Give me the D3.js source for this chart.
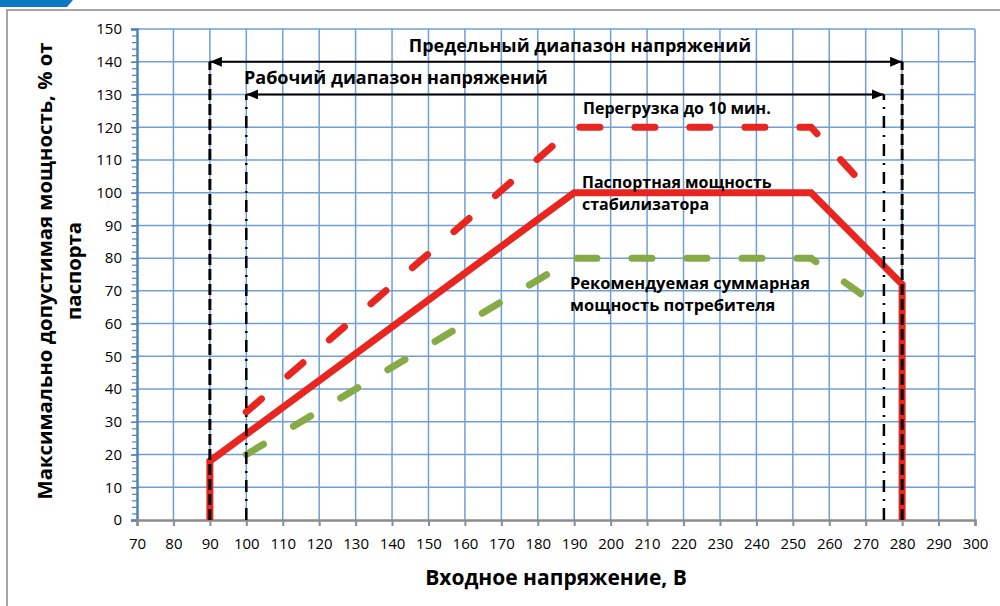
<!DOCTYPE html>
<html>
<head>
<meta charset="utf-8">
<script src="https://cdn.jsdelivr.net/npm/d3@7"></script>
<style>
  body { margin: 0; background: #fff; }
  svg { display: block; font-family: "Open Sans", sans-serif; }
  .lbl { font-weight: bold; fill: #000; }
</style>
</head>
<body>
<div id="chart"></div>
<script>
// tick labels
var xTicks = [70, 80, 90, 100, 110, 120, 130, 140, 150, 160, 170, 180, 190, 200, 210, 220, 230, 240, 250, 260, 270, 280, 290, 300];
var yTicks = [0, 10, 20, 30, 40, 50, 60, 70, 80, 90, 100, 110, 120, 130, 140, 150];

// series (voltage, % of rated power)
var passportV = [90, 90, 190, 255, 280, 280];
var passportP = [0, 18, 100, 100, 72, 0];
var overloadV = [100, 190, 255, 273];
var overloadP = [33, 120, 120, 98];
var recommendV = [100, 190, 255, 275];
var recommendP = [20, 80, 80, 64];

// voltage ranges [from, to, level]
var limitRange = [90, 280, 140];
var workRange = [100, 275, 130];

var width = 1000, height = 606;
var margin = {top: 29, right: 25, bottom: 86, left: 137};
var innerWidth = width - margin.left - margin.right;
var innerHeight = height - margin.top - margin.bottom;

var svg = d3.select("#chart").append("svg")
    .attr("width", width)
    .attr("height", height);

// outer frame
svg.append("path")
    .attr("d", "M7,606V10H1000")
    .attr("fill", "none")
    .attr("stroke", "#a6a6a6")
    .attr("stroke-width", 2);
svg.append("path")
    .attr("d", "M0,0H73L67,7H0Z")
    .attr("fill", "#0a7bc1");

var xScale = d3.scaleLinear().domain([70, 300]).range([0, innerWidth]);
var yScale = d3.scaleLinear().domain([0, 150]).range([innerHeight, 0]);

var g = svg.append("g")
    .attr("transform", `translate(${margin.left}, ${margin.top})`);

var gridColor = "#6f9ed8";

// grid
g.append("g").selectAll("line").data(xTicks.slice(1)).join("line")
    .attr("x1", d => xScale(d)).attr("x2", d => xScale(d))
    .attr("y1", 0).attr("y2", innerHeight)
    .attr("stroke", gridColor).attr("stroke-width", 1.5);
g.append("g").selectAll("line").data(yTicks.slice(1)).join("line")
    .attr("x1", 0).attr("x2", innerWidth)
    .attr("y1", d => yScale(d)).attr("y2", d => yScale(d))
    .attr("stroke", gridColor).attr("stroke-width", 1.5);

// y axis with minor ticks
var yMinor = g.append("g").call(d3.axisLeft(yScale).ticks(75).tickSize(5).tickFormat(""));
yMinor.selectAll("line").attr("stroke", "#4f81bd").attr("stroke-width", 1.2);
yMinor.select(".domain").remove();

var yAxisG = g.append("g")
    .call(d3.axisLeft(yScale).tickValues(yTicks).tickSize(6).tickPadding(9))
    .attr("font-family", null)
    .attr("font-size", 15);
yAxisG.selectAll("line").attr("stroke", "#4f81bd").attr("stroke-width", 1.5);
yAxisG.select(".domain").attr("stroke", "#4f81bd").attr("stroke-width", 2.5);
yAxisG.selectAll("text").attr("fill", "#000");

var xAxisG = g.append("g")
    .attr("transform", `translate(0, ${innerHeight})`)
    .call(d3.axisBottom(xScale).tickValues(xTicks).tickSize(6).tickPadding(12))
    .attr("font-family", null)
    .attr("font-size", 15);
xAxisG.selectAll("line").attr("stroke", "#8c8c8c").attr("stroke-width", 2);
xAxisG.select(".domain").attr("stroke", "#8c8c8c").attr("stroke-width", 2.5);
xAxisG.selectAll("text").attr("fill", "#000");

var lineGen = d3.line()
    .x(d => xScale(d[0]))
    .y(d => yScale(d[1]));

var pairs = (xs, ys) => xs.map((v, i) => [v, ys[i]]);

// recommended consumer power
g.append("path")
    .attr("d", lineGen(pairs(recommendV, recommendP)))
    .attr("fill", "none")
    .attr("stroke", "#86aa45")
    .attr("stroke-width", 7)
    .attr("stroke-linecap", "round")
    .attr("stroke-dasharray", "20 35");

// overload up to 10 min
g.append("path")
    .attr("d", lineGen(pairs(overloadV, overloadP)))
    .attr("fill", "none")
    .attr("stroke", "#e8251f")
    .attr("stroke-width", 7)
    .attr("stroke-linecap", "round")
    .attr("stroke-dasharray", "20 35");

// rated stabilizer power
g.append("path")
    .attr("d", lineGen(pairs(passportV, passportP)))
    .attr("fill", "none")
    .attr("stroke", "#e8251f")
    .attr("stroke-width", 7)
    .attr("stroke-linejoin", "miter");

// range boundary lines
[limitRange[0], limitRange[1]].forEach(v => {
  g.append("line")
    .attr("x1", xScale(v)).attr("x2", xScale(v))
    .attr("y1", yScale(0)).attr("y2", yScale(limitRange[2]))
    .attr("stroke", "#000").attr("stroke-width", 3)
    .attr("stroke-dasharray", "11 4");
});
[workRange[0], workRange[1]].forEach(v => {
  g.append("line")
    .attr("x1", xScale(v)).attr("x2", xScale(v))
    .attr("y1", yScale(0)).attr("y2", yScale(workRange[2]))
    .attr("stroke", "#000").attr("stroke-width", 2.5)
    .attr("stroke-dasharray", "12 7 2 7");
});

// arrows
svg.append("defs").append("marker")
    .attr("id", "arrow")
    .attr("viewBox", "0 0 12 10")
    .attr("refX", 12).attr("refY", 5)
    .attr("markerWidth", 12).attr("markerHeight", 10)
    .attr("markerUnits", "userSpaceOnUse")
    .attr("orient", "auto-start-reverse")
    .append("path")
    .attr("d", "M0,0L12,5L0,10Z")
    .attr("fill", "#000");

[limitRange, workRange].forEach(r => {
  g.append("line")
    .attr("x1", xScale(r[0])).attr("x2", xScale(r[1]))
    .attr("y1", yScale(r[2])).attr("y2", yScale(r[2]))
    .attr("stroke", "#000").attr("stroke-width", 2)
    .attr("marker-start", "url(#arrow)")
    .attr("marker-end", "url(#arrow)");
});

// annotations
var notes = [
  {x: 580, y: 52, size: 18, anchor: "middle", lines: ["Предельный диапазон напряжений"]},
  {x: 244, y: 84, size: 18, anchor: "start", lines: ["Рабочий диапазон напряжений"]},
  {x: 583, y: 114, size: 16, anchor: "start", lines: ["Перегрузка до 10 мин."]},
  {x: 582, y: 188, size: 16, anchor: "start", lines: ["Паспортная мощность", "стабилизатора"]},
  {x: 570, y: 289, size: 16.5, anchor: "start", lines: ["Рекомендуемая суммарная", "мощность потребителя"]}
];
notes.forEach(n => {
  var t = svg.append("text")
    .attr("class", "lbl")
    .attr("x", n.x).attr("y", n.y)
    .attr("font-size", n.size)
    .attr("text-anchor", n.anchor);
  n.lines.forEach((s, i) => {
    t.append("tspan").attr("x", n.x).attr("dy", i ? 22 : 0).text(s);
  });
});

// axis titles
svg.append("text")
    .attr("class", "lbl")
    .attr("x", 556).attr("y", 585)
    .attr("font-size", 21)
    .attr("text-anchor", "middle")
    .text("Входное напряжение, В");

var yt = svg.append("text")
    .attr("class", "lbl")
    .attr("transform", "translate(52, 271) rotate(-90)")
    .attr("font-size", 20.3)
    .attr("text-anchor", "middle");
yt.append("tspan").attr("x", 0).attr("dy", 0).text("Максимально допустимая мощность, % от");
yt.append("tspan").attr("x", 0).attr("dy", 29).text("паспорта");
</script>
</body>
</html>
